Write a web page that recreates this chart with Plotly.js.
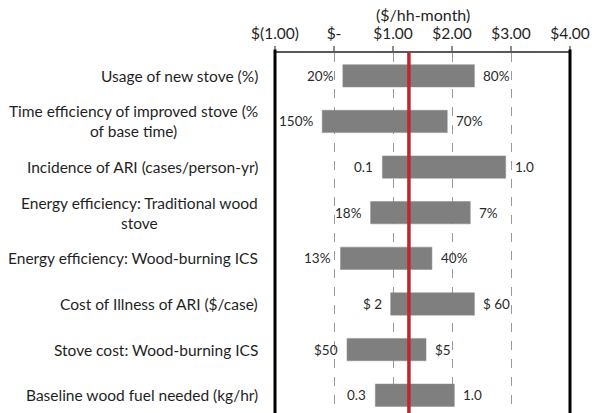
<!DOCTYPE html>
<html>
<head>
<meta charset="utf-8">
<script src="https://cdn.plot.ly/plotly-3.0.1.min.js"></script>
<style>html,body{margin:0;padding:0;background:#fff;overflow:hidden}#chart{width:592px;height:413px}</style>
</head>
<body>
<div id="chart"></div>
<script>
const categories = [
  'Usage of new stove (%)',
  'Time efficiency of improved stove (%<br>of base time)',
  'Incidence of ARI (cases/person-yr)',
  'Energy efficiency: Traditional wood<br>stove',
  'Energy efficiency: Wood-burning ICS',
  'Cost of Illness of ARI ($/case)',
  'Stove cost: Wood-burning ICS',
  'Baseline wood fuel needed (kg/hr)'
];
const lowValues  = [0.15, -0.20, 0.82, 0.62, 0.11, 0.96, 0.22, 0.70];
const highValues = [2.38, 1.92, 2.91, 2.31, 1.66, 2.38, 1.56, 2.04];
const leftLabels  = ['20%', '150%', '0.1', '18%', '13%', '$ 2', '$50', '0.3'];
const rightLabels = ['80%', '70%', '1.0', '7%', '40%', '$ 60', '$5', '1.0'];
const baseValue = 1.27;
const tickValues = [-1, 0, 1, 2, 3, 4];
const tickLabels = ['$(1.00)', '$-', '$1.00', '$2.00', '$3.00', '$4.00'];
const axisTitle = '($/hh-month)';

const FONT = 'Lato, "Noto Sans", sans-serif';
const idx = categories.map((_, i) => i);

const trace = {
  type: 'bar',
  orientation: 'h',
  y: idx,
  base: lowValues,
  x: highValues.map((h, i) => h - lowValues[i]),
  width: 0.49,
  marker: {color: '#7f7f7f', line: {color: '#8c8c8c', width: 0.5}},
  hoverinfo: 'none'
};

const annotations = [];
categories.forEach((c, i) => {
  annotations.push({xref: 'paper', yref: 'y', x: 0, y: i, xanchor: 'right', yanchor: 'middle',
    xshift: -15, text: c, align: 'center', showarrow: false,
    font: {family: FONT, size: 15.5, color: '#1f1f1f'}});
  annotations.push({xref: 'x', yref: 'y', x: lowValues[i], y: i, xanchor: 'right', yanchor: 'middle',
    xshift: -7, text: leftLabels[i], showarrow: false,
    font: {family: FONT, size: 13.5, color: '#2a2a2a'}});
  annotations.push({xref: 'x', yref: 'y', x: highValues[i], y: i, xanchor: 'left', yanchor: 'middle',
    xshift: 7, text: rightLabels[i], showarrow: false,
    font: {family: FONT, size: 13.5, color: '#2a2a2a'}});
});
annotations.push({xref: 'paper', yref: 'paper', x: 0.5, y: 1, yshift: 39, xanchor: 'center', yanchor: 'middle',
  text: axisTitle, showarrow: false, font: {family: FONT, size: 16, color: '#1f1f1f'}});

const layout = {
  width: 592, height: 413,
  margin: {l: 275, r: 22, t: 53, b: 0, pad: 0},
  paper_bgcolor: '#fff', plot_bgcolor: '#fff',
  showlegend: false,
  xaxis: {
    side: 'top', range: [-1, 4], tickvals: tickValues, ticktext: tickLabels,
    showline: true, linecolor: '#595959', linewidth: 2.5,
    ticks: 'outside', ticklen: 5, tickwidth: 1.2, tickcolor: '#8c8c8c',
    showgrid: true, gridcolor: '#999999', gridwidth: 1, griddash: 'dash',
    zeroline: false, fixedrange: true,
    tickfont: {family: FONT, size: 15.5, color: '#1f1f1f'}
  },
  yaxis: {
    range: [7.39, -0.5], showticklabels: false, showgrid: false, zeroline: false,
    showline: false, ticks: '', fixedrange: true
  },
  shapes: [
    {type: 'line', xref: 'x', yref: 'paper', x0: baseValue, x1: baseValue, y0: 0, y1: 1,
      line: {color: '#c0272d', width: 3.5}, layer: 'above'},
    {type: 'line', xref: 'paper', yref: 'paper', x0: 0, x1: 0, y0: 0, y1: 1.01,
      line: {color: '#000', width: 3}, layer: 'above'},
    {type: 'line', xref: 'paper', yref: 'paper', x0: 1, x1: 1, y0: 0, y1: 1.01,
      line: {color: '#000', width: 3}, layer: 'above'}
  ],
  annotations: annotations,
  bargap: 0.5
};

Plotly.newPlot('chart', [trace], layout, {staticPlot: true, displayModeBar: false});
</script>
</body>
</html>
